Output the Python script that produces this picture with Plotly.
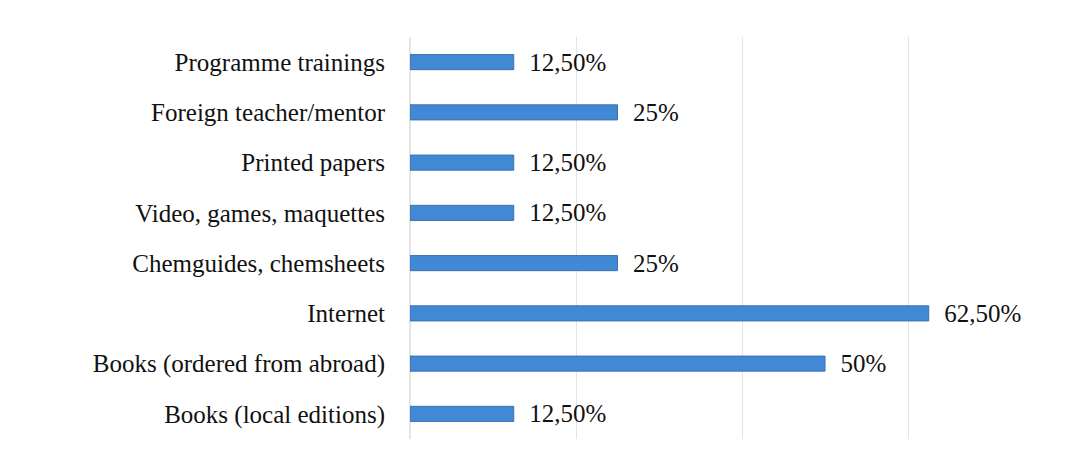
import plotly.graph_objects as go

categories = [
    "Books (local editions)",
    "Books (ordered from abroad)",
    "Internet",
    "Chemguides, chemsheets",
    "Video, games, maquettes",
    "Printed papers",
    "Foreign teacher/mentor",
    "Programme trainings",
]
values = [12.5, 50, 62.5, 25, 12.5, 12.5, 25, 12.5]
value_labels = ["12,50%", "50%", "62,50%", "25%", "12,50%", "12,50%", "25%", "12,50%"]

fig = go.Figure()
fig.add_trace(go.Bar(
    x=values,
    y=categories,
    orientation="h",
    text=["\u00a0\u00a0" + t for t in value_labels],
    textposition="outside",
    constraintext="none",
    cliponaxis=False,
    textfont=dict(family="Liberation Serif", size=25, color="#111111"),
    marker=dict(color="#4189d4", line=dict(color="#3a72b0", width=1)),
    width=0.3,
    hoverinfo="skip",
))

fig.update_layout(
    width=1075,
    height=454,
    margin=dict(l=402, r=9, t=29, b=23, autoexpand=False),
    paper_bgcolor="white",
    plot_bgcolor="white",
    showlegend=False,
    font=dict(family="Liberation Serif", size=25, color="#111111"),
)
fig.update_xaxes(
    range=[0, 80],
    dtick=20,
    showticklabels=False,
    showgrid=True,
    gridcolor="#e4e4e4",
    gridwidth=1,
    zeroline=True,
    zerolinecolor="#e4e4e4",
    showline=False,
    automargin=False,
    fixedrange=True,
)
fig.update_yaxes(
    type="category",
    categoryorder="array",
    categoryarray=categories,
    range=[-0.5, 7.5],
    showgrid=False,
    showline=False,
    ticks="",
    ticklabelstandoff=24,
    automargin=False,
    tickfont=dict(family="Liberation Serif", size=25, color="#111111"),
    fixedrange=True,
)

fig.write_html("out.html")
